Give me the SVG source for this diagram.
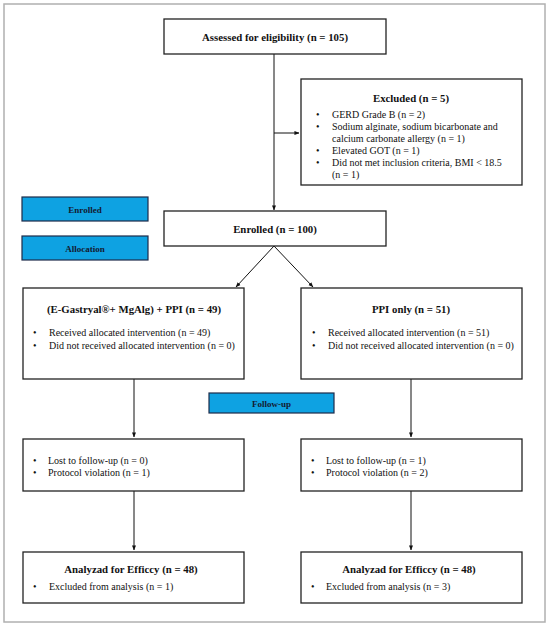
<svg xmlns="http://www.w3.org/2000/svg" width="550" height="628" viewBox="0 0 550 628">
<style>
.box{fill:#fff;stroke:#222;stroke-width:1.3}
.stage{fill:#0ea2e2;stroke:#1d2b4a;stroke-width:1.2}
.t{font-family:"Liberation Serif","Times New Roman",serif;fill:#111}
.b{font-weight:bold;font-size:10.8px;text-anchor:middle}
.s{font-weight:bold;font-size:9px;text-anchor:middle;fill:#141a30}
.r{font-size:10px}
.c{fill:none;stroke:#111;stroke-width:1}
</style>
<defs>
<marker id="ah" viewBox="0 0 6 6" refX="5.5" refY="3" markerWidth="5" markerHeight="5" markerUnits="userSpaceOnUse" orient="auto">
<path d="M0,0.6 L6,3 L0,5.4 Z" fill="#111"/>
</marker>
</defs>
<rect x="4" y="4" width="541" height="618" fill="#fff" stroke="#b0b0b0" stroke-width="1.5"/>

<g id="connectors">
<line class="c" x1="274" y1="54" x2="274" y2="210" marker-end="url(#ah)"/>
<line class="c" x1="274" y1="133" x2="299" y2="133" marker-end="url(#ah)"/>
<line class="c" x1="274" y1="246" x2="236" y2="287" marker-end="url(#ah)"/>
<line class="c" x1="274" y1="246" x2="313" y2="287" marker-end="url(#ah)"/>
<line class="c" x1="134" y1="379" x2="134" y2="437" marker-end="url(#ah)"/>
<line class="c" x1="411" y1="379" x2="411" y2="437" marker-end="url(#ah)"/>
<line class="c" x1="134" y1="491" x2="134" y2="550" marker-end="url(#ah)"/>
<line class="c" x1="411" y1="491" x2="411" y2="550" marker-end="url(#ah)"/>
</g>

<g id="assessed">
<rect class="box" x="164" y="19" width="222" height="35"/>
<text class="t b" x="275" y="40.5">Assessed for eligibility (n = 105)</text>
</g>

<g id="excluded">
<rect class="box" x="301" y="79" width="221" height="106"/>
<text class="t b" x="411" y="101.5">Excluded (n = 5)</text>
<g class="t r">
<text x="316" y="117.5">•</text><text x="332" y="117.5">GERD Grade B (n = 2)</text>
<text x="316" y="129.5">•</text><text x="332" y="129.5">Sodium alginate, sodium bicarbonate and</text>
<text x="332" y="141.5">calcium carbonate allergy (n = 1)</text>
<text x="316" y="153.5">•</text><text x="332" y="153.5">Elevated GOT (n = 1)</text>
<text x="316" y="165.5">•</text><text x="332" y="165.5">Did not met inclusion criteria, BMI &lt; 18.5</text>
<text x="332" y="177.5">(n = 1)</text>
</g>
</g>

<g id="stage-enrolled">
<rect class="stage" x="22" y="197" width="126" height="24"/>
<text class="t s" x="85" y="212.5">Enrolled</text>
</g>
<g id="stage-allocation">
<rect class="stage" x="22" y="236" width="126" height="24"/>
<text class="t s" x="85" y="251.5">Allocation</text>
</g>

<g id="enrolled">
<rect class="box" x="164" y="211" width="222" height="35"/>
<text class="t b" x="275" y="232.5">Enrolled (n = 100)</text>
</g>

<g id="group-left">
<rect class="box" x="23" y="288" width="221" height="91"/>
<text class="t b" x="134" y="312.5">(E-Gastryal®+ MgAlg) + PPI (n = 49)</text>
<g class="t r">
<text x="33" y="335.5">•</text><text x="49" y="335.5">Received allocated intervention (n = 49)</text>
<text x="33" y="348.5">•</text><text x="49" y="348.5">Did not received allocated intervention  (n = 0)</text>
</g>
</g>

<g id="group-right">
<rect class="box" x="301" y="288" width="221" height="91"/>
<text class="t b" x="411" y="312.5">PPI only (n = 51)</text>
<g class="t r">
<text x="312" y="335.5">•</text><text x="328" y="335.5">Received allocated intervention (n = 51)</text>
<text x="312" y="348.5">•</text><text x="328" y="348.5">Did not received allocated intervention  (n = 0)</text>
</g>
</g>

<g id="stage-followup">
<rect class="stage" x="209" y="393" width="125" height="20"/>
<text class="t s" x="271.5" y="406.5">Follow-up</text>
</g>

<g id="lost-left">
<rect class="box" x="23" y="439" width="221" height="52"/>
<g class="t r">
<text x="33" y="463.5">•</text><text x="48" y="463.5">Lost to follow-up (n = 0)</text>
<text x="33" y="475.5">•</text><text x="48" y="475.5">Protocol violation  (n = 1)</text>
</g>
</g>

<g id="lost-right">
<rect class="box" x="301" y="439" width="221" height="52"/>
<g class="t r">
<text x="311" y="463.5">•</text><text x="326" y="463.5">Lost to follow-up (n = 1)</text>
<text x="311" y="475.5">•</text><text x="326" y="475.5">Protocol violation  (n = 2)</text>
</g>
</g>

<g id="analyzed-left">
<rect class="box" x="23" y="552" width="221" height="51"/>
<text class="t b" x="131" y="573">Analyzad for Efficcy  (n = 48)</text>
<g class="t r">
<text x="33" y="590">•</text><text x="49" y="590">Excluded from analysis (n = 1)</text>
</g>
</g>

<g id="analyzed-right">
<rect class="box" x="301" y="552" width="221" height="51"/>
<text class="t b" x="409" y="573">Analyzad for Efficcy  (n = 48)</text>
<g class="t r">
<text x="311" y="590">•</text><text x="326" y="590">Excluded from analysis (n = 3)</text>
</g>
</g>
</svg>
